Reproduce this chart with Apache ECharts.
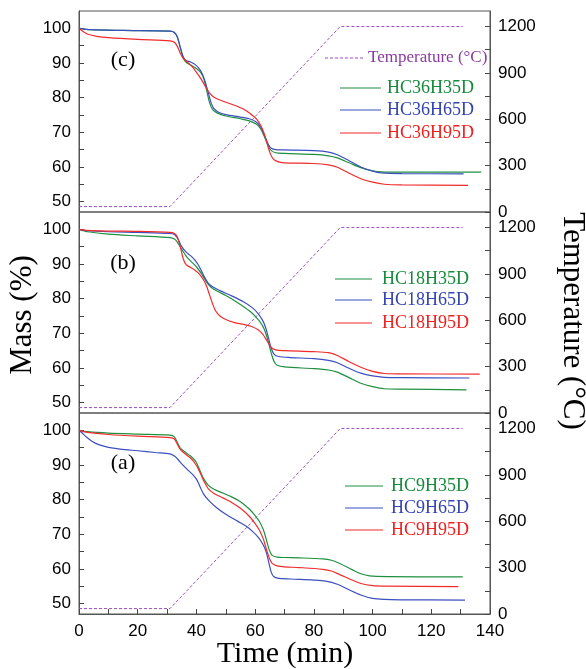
<!DOCTYPE html>
<html>
<head>
<meta charset="utf-8">
<script src="https://cdn.jsdelivr.net/npm/echarts@6/dist/echarts.min.js"></script>
<style>
html,body{margin:0;padding:0;background:#fff;}
#chart{width:586px;height:669px;}
</style>
</head>
<body>
<div id="chart"></div>
<script>
// ---- tick labels ----
const timeTicks = [0, 20, 40, 60, 80, 100, 120, 140];
const massLabels = [50, 60, 70, 80, 90, 100];
const massTicks = [50, 55, 60, 65, 70, 75, 80, 85, 90, 95, 100];
const tempLabels = [0, 300, 600, 900, 1200];
const tempTicks = [0, 150, 300, 450, 600, 750, 900, 1050, 1200];

// ---- temperature program (same for all panels) ----
const temperature = [[0, 35], [31, 35], [89, 1200], [130.7, 1200]];

// ---- panel (c) ----
const HC36H35D = [[0,100],[4,99.6],[15,99.4],[31,99.2],[32.5,98.8],[33.5,97.5],[34.5,94.5],[35.5,91.5],[36.5,90.2],[38,89.4],[40,88.4],[41.5,87.2],[42.5,85.5],[43.5,82],[44.5,78.5],[45.5,76.6],[47,75.6],[50,74.7],[55,73.9],[58,73.3],[60.5,72.3],[62,70.8],[63.5,68],[64.5,66],[65.5,64.7],[67,64.1],[70,63.9],[80,63.6],[85,63.2],[88,62.6],[92,61.2],[96,59.8],[100,58.9],[103,58.6],[110,58.5],[137,58.5]];
const HC36H65D = [[0,100],[4,99.6],[15,99.4],[31,99.2],[32.5,98.8],[33.5,97.5],[34.5,94.5],[35.5,91.8],[36.5,90.7],[38,90.3],[39.5,89.6],[41,88.3],[42,86.8],[43,84.5],[44,81.5],[45,78.5],[46,76.8],[47.5,75.8],[50,75.1],[55,74.4],[58,73.9],[60.5,72.9],[62,71.3],[63.5,68.5],[64.5,66.5],[65.5,65.4],[67,65.0],[70,64.9],[80,64.7],[85,64.3],[88,63.5],[92,61.8],[96,60.0],[100,58.8],[103,58.3],[110,58.1],[131,58]];
const HC36H95D = [[0,100],[1.5,99],[3,98.3],[6,97.7],[10,97.3],[20,96.8],[31,96.4],[32.5,96.0],[33.5,94.8],[34.5,92.8],[35.5,91.3],[37,90.2],[38.5,89],[40,87.3],[41.5,85.5],[43,83.3],[44.5,81.3],[46,80.1],[48,79.3],[52,78.1],[56,76.7],[58.5,75.3],[60.5,73.8],[62,71.8],[63,69.8],[64,67],[65,64.2],[66,62.5],[67.5,61.6],[70,61.2],[80,61],[85,60.6],[88,59.9],[92,58.2],[96,56.6],[100,55.6],[104,55],[110,54.8],[132.5,54.7]];

// ---- panel (b) ----
const HC18H35D = [[0,100],[3,99.3],[10,98.6],[20,98.1],[31,97.6],[32.5,97.2],[33.5,96.3],[35,94.2],[36.5,92.3],[38,90.9],[40,89.2],[42,86.8],[43.5,84.7],[45,83.3],[47,82.2],[50,80.9],[53,79.4],[56,77.7],[59,75.8],[61,74],[62.5,72.2],[63.5,70.3],[64.5,67.5],[65.5,64.2],[66.5,61.8],[67.5,60.8],[70,60.3],[80,59.8],[85,59.4],[88,58.8],[92,57.2],[96,55.6],[100,54.6],[104,54],[110,53.9],[132,53.7]];
const HC18H65D = [[0,100],[3,99.6],[10,99.3],[20,99.1],[31,98.8],[32.5,98.5],[33.5,97.5],[35,95],[36.5,93.4],[38,92.4],[39.5,91.1],[41,89.2],[42.5,86.6],[44,84.5],[45.5,83.4],[48,82.3],[52,80.8],[56,79.1],[59,77.4],[61,75.7],[62.5,73.8],[63.5,71.8],[64.5,68.8],[65.5,65.6],[66.5,63.9],[68,63.3],[72,63],[80,62.7],[85,62.2],[88,61.5],[92,59.9],[96,58.5],[100,57.7],[104,57.3],[110,57.2],[133,57.1]];
const HC18H95D = [[0,100],[3,99.7],[10,99.5],[20,99.4],[31,99.1],[32.5,98.8],[33.5,97.8],[34.5,95],[35.5,91.5],[36.5,89.8],[38,89],[39.5,88.2],[41,87.1],[42.5,85.3],[43.5,83.5],[44.5,81],[45.5,78.5],[46.5,76.5],[48,75],[50,74],[53,73.1],[56,72.6],[59,71.9],[61,71],[62.5,69.8],[64,67.9],[65.5,65.9],[67,65.2],[70,65],[80,64.7],[85,64.4],[88,63.6],[92,61.8],[96,60.2],[100,59],[104,58.4],[110,58.3],[136.5,58.2]];

// ---- panel (a) ----
const HC9H35D = [[0,100],[3,99.6],[10,99.2],[20,98.9],[31,98.6],[32.5,98.1],[33.5,96.5],[34.5,94.9],[36,93.8],[38,92.6],[39.5,91.3],[40.5,89.8],[41.5,87.8],[42.5,86],[44,84.2],[46,83],[49,81.9],[52,80.8],[55,79.4],[58,77.3],[60,75.4],[61.5,73.6],[62.8,71.3],[63.8,68.5],[64.8,65.5],[65.8,63.9],[67.5,63.4],[70,63.3],[75,63.2],[83,62.9],[86,62.5],[89,61.5],[93,59.8],[96,58.6],[99,58],[105,57.8],[130.7,57.7]];
const HC9H65D = [[0,100],[1,99.3],[2.5,98.1],[4.5,96.8],[7,95.8],[10,95.1],[14,94.6],[20,94.1],[26,93.6],[31,93.2],[32.5,92.6],[33.5,91.8],[35,90.3],[37,88.6],[39,87],[40.3,85.5],[41.3,83.6],[42.5,81.5],[44.5,79.5],[47,77.6],[50,75.8],[54,73.8],[57,72.3],[59,70.9],[61,69.2],[62.6,67.2],[63.8,64.8],[64.7,61.7],[65.5,59],[66.3,57.8],[68,57.3],[72,57.1],[80,56.8],[84,56.5],[88,55.6],[92,54],[96,52.5],[100,51.5],[104,51.2],[110,51.1],[131.5,51]];
const HC9H95D = [[0,100],[3,99.4],[10,98.8],[20,98.3],[31,97.9],[32.5,97.5],[33.5,96],[34.5,94.5],[36,93.3],[38,92],[39.5,90.5],[40.5,89.1],[41.5,87.3],[42.5,85.4],[44,83.2],[46,81.8],[49,80.5],[52,79.2],[55,77.5],[58,75.2],[60,73.1],[61.5,71.1],[62.8,68.6],[63.8,65.8],[64.8,63.2],[65.8,61.6],[67.5,60.9],[70,60.6],[75,60.4],[83,59.9],[86,59.4],[89,58.3],[93,56.8],[96,55.8],[100,55.2],[105,55.05],[129.2,54.9]];

const panelNames = ['(c)', '(b)', '(a)'];
const panelSeries = [
  [['HC36H35D', HC36H35D], ['HC36H65D', HC36H65D], ['HC36H95D', HC36H95D]],
  [['HC18H35D', HC18H35D], ['HC18H65D', HC18H65D], ['HC18H95D', HC18H95D]],
  [['HC9H35D', HC9H35D], ['HC9H65D', HC9H65D], ['HC9H95D', HC9H95D]]
];
const tempName = 'Temperature (°C)';

const colors = ['#1f9040', '#3b4fc0', '#f22b2b'];
const textColors = ['#168a3a', '#3343b0', '#ee2020'];
const tempColor = '#9b4fc4';
const frame = '#555';
const tickColor = '#444';

const L = 79, R = 490, panelTop = [11, 212, 413], panelH = 201;
const W = R - L;

const grids = [], xAxes = [], yAxes = [], series = [], graphics = [];
const sansFont = 'Liberation Sans, Arial, sans-serif';
const serif = 'Liberation Serif, Times New Roman, serif';
const plain = v => String(v);

panelTop.forEach((top, i) => {
  grids.push({left: L, top: top, width: W, height: panelH, show: true, borderColor: frame, borderWidth: 1});
  const isBottom = i === 2;
  xAxes.push({
    gridIndex: i, type: 'value', min: 0, max: 140, interval: 20,
    axisLine: {show: isBottom, lineStyle: {color: frame}},
    axisTick: {show: isBottom, inside: true, length: 5, lineStyle: {color: tickColor}},
    minorTick: {show: isBottom, splitNumber: 2, length: 5, lineStyle: {color: tickColor}},
    axisLabel: {show: isBottom, color: '#000', fontFamily: sansFont, fontSize: 17, margin: 9, formatter: plain},
    splitLine: {show: false}
  });
  yAxes.push({
    gridIndex: i, type: 'value', min: 47, max: 105, position: 'left',
    axisLine: {show: true, lineStyle: {color: frame}},
    axisTick: {show: true, inside: true, length: 5, lineStyle: {color: tickColor}, customValues: massTicks},
    axisLabel: {show: true, color: '#000', fontFamily: sansFont, fontSize: 17, margin: 8, customValues: massLabels, formatter: plain},
    splitLine: {show: false}
  });
  yAxes.push({
    gridIndex: i, type: 'value', min: 0, max: 1300, interval: 300, position: 'right',
    axisLine: {show: true, lineStyle: {color: frame}},
    axisTick: {show: true, inside: true, length: 5, lineStyle: {color: tickColor}, customValues: tempTicks},
    axisLabel: {show: true, color: '#000', fontFamily: sansFont, fontSize: 17, margin: 8, customValues: tempLabels, formatter: plain},
    splitLine: {show: false}
  });
  series.push({
    name: tempName, type: 'line', xAxisIndex: i, yAxisIndex: 2 * i + 1,
    data: temperature, showSymbol: false, symbol: 'none', silent: true,
    lineStyle: {color: tempColor, width: 1, type: [3, 2]}
  });
  panelSeries[i].forEach(([name, data], k) => {
    series.push({
      name: name, type: 'line', xAxisIndex: i, yAxisIndex: 2 * i,
      data: data, showSymbol: false, symbol: 'none', smooth: 0.3, silent: true,
      lineStyle: {color: colors[k], width: 1.2}
    });
  });
});

const tagY = [60, 263, 463];
panelNames.forEach((t, i) => {
  graphics.push({type: 'text', x: 123, y: tagY[i], style: {text: t, font: '22px ' + serif, fill: '#000', textAlign: 'center', textVerticalAlign: 'middle'}});
});

function legendItem(x1, x2, tx, y, text, stroke, fill, dash, size) {
  graphics.push({type: 'line', shape: {x1: x1, y1: y, x2: x2, y2: y}, style: {stroke: stroke, lineWidth: dash ? 1 : 1.2, lineDash: dash || null}});
  graphics.push({type: 'text', x: tx, y: y, style: {text: text, font: size + 'px ' + serif, fill: fill, textAlign: 'left', textVerticalAlign: 'middle'}});
}
legendItem(325, 363, 368, 58, tempName, tempColor, '#8a3aa0', [3, 2], 17);
const legY = [[88, 110, 133], [279, 300, 323], [486, 508, 530]];
const legX = [[340, 381, 387], [335, 372, 382], [345, 383, 391]];
panelSeries.forEach((ps, i) => {
  ps.forEach(([name], k) => {
    legendItem(legX[i][0], legX[i][1], legX[i][2], legY[i][k], name, colors[k], textColors[k], null, 18);
  });
});

graphics.push({type: 'text', x: 23, y: 315, rotation: Math.PI / 2, style: {text: 'Mass (%)', font: '31px ' + serif, fill: '#000', textAlign: 'center', textVerticalAlign: 'middle'}});
graphics.push({type: 'text', x: 572, y: 321, rotation: -Math.PI / 2, style: {text: 'Temperature (°C)', font: '31px ' + serif, fill: '#000', textAlign: 'center', textVerticalAlign: 'middle'}});
graphics.push({type: 'text', x: 285, y: 654, style: {text: 'Time (min)', font: '30px ' + serif, fill: '#000', textAlign: 'center', textVerticalAlign: 'middle'}});

const chart = echarts.init(document.getElementById('chart'), null, {renderer: 'canvas'});
chart.setOption({
  animation: false,
  backgroundColor: '#fff',
  grid: grids,
  xAxis: xAxes,
  yAxis: yAxes,
  series: series,
  graphic: graphics
});
</script>
</body>
</html>
